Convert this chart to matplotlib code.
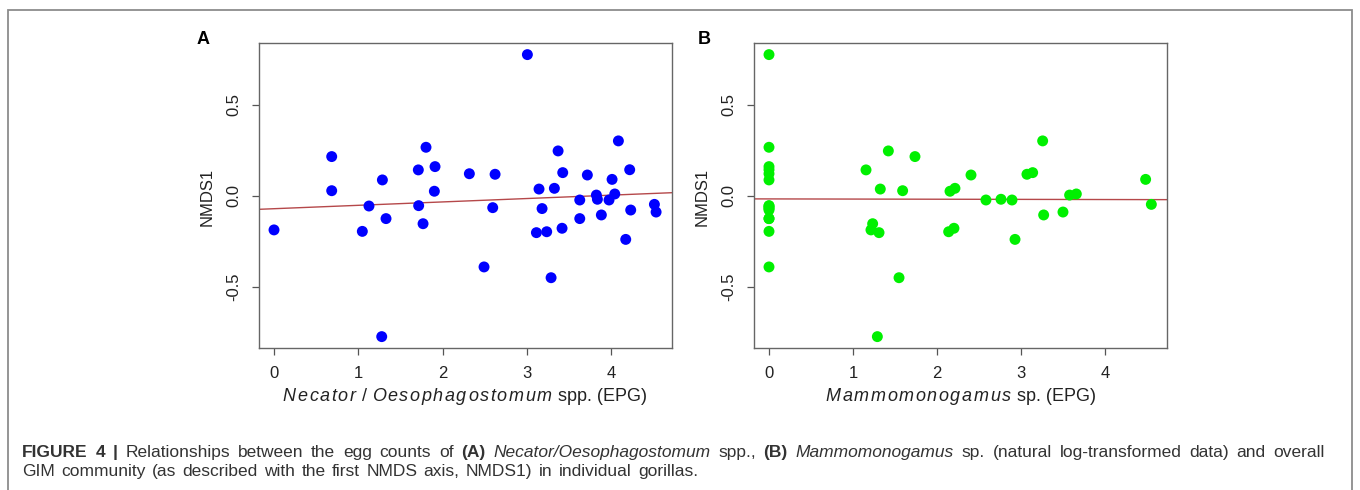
import numpy as np
import matplotlib
matplotlib.use("Agg")
import matplotlib.pyplot as plt
from matplotlib.patches import Rectangle
from matplotlib.font_manager import FontProperties, findfont
from matplotlib.ft2font import FT2Font

plt.rcParams["font.family"] = ["Liberation Sans", "DejaVu Sans"]

# NMDS1 score per gorilla (same individuals in both panels)
nmds1 = [-0.186, 0.216, 0.029, -0.194, -0.055, 0.088, -0.124, -0.771, 0.143,
         -0.053, 0.267, -0.152, 0.026, 0.161, 0.122, -0.389, 0.119, -0.064,
         0.775, 0.038, -0.069, -0.201, -0.196, -0.448, 0.042, 0.247, 0.128,
         -0.177, -0.022, -0.124, 0.115, 0.005, -0.018, -0.104, -0.022, 0.091,
         0.011, 0.302, 0.144, -0.077, -0.238, -0.046, -0.088]

# ln-transformed egg counts (EPG)
necator_epg = [0.0, 0.684, 0.684, 1.047, 1.126, 1.285, 1.328, 1.277, 1.711,
               1.715, 1.802, 1.767, 1.901, 1.909, 2.316, 2.490, 2.621, 2.593,
               3.004, 3.142, 3.178, 3.111, 3.233, 3.285, 3.324, 3.368, 3.423,
               3.415, 3.625, 3.625, 3.715, 3.822, 3.834, 3.881, 3.972, 4.008,
               4.040, 4.083, 4.217, 4.229, 4.170, 4.510, 4.530]
mammo_epg = [1.214, 1.738, 1.591, 0.0, 0.0, 0.0, 0.0, 1.290, 1.155,
             0.0, 0.0, 1.234, 2.155, 0.0, 0.0, 0.0, 3.071, 0.0,
             0.0, 1.325, 0.0, 1.310, 2.139, 1.548, 2.214, 1.421, 3.139,
             2.202, 2.583, 0.0, 2.405, 3.579, 2.762, 3.270, 2.893, 4.484,
             3.659, 3.258, 0.0, 0.0, 2.929, 4.552, 3.500]

x_ticks = [0, 1, 2, 3, 4]
y_ticks = [-0.5, 0.0, 0.5]
y_tick_labels = ["-0.5", "0.0", "0.5"]

FIG_W, FIG_H = 1360, 490
fig = plt.figure(figsize=(FIG_W / 100, FIG_H / 100), dpi=100)
renderer = fig.canvas.get_renderer()

_fonts = {}


def advance(c, style, size):
    """horizontal advance of one glyph, in pixels at 100 dpi"""
    key = (style, size)
    if key not in _fonts:
        fp = FontProperties(family="Liberation Sans", style=style, size=size)
        f = FT2Font(findfont(fp), hinting_factor=1)
        f.set_size(size, 100)
        _fonts[key] = f
    return _fonts[key].load_char(ord(c)).linearHoriAdvance / 65536


def place_runs(runs, cx_px, y, size, color="#222222"):
    """Centered label built from runs (text, style, extra letter spacing px).
    Spaced runs are drawn glyph by glyph, the others as a single text."""
    pieces = []
    pen = 0.0
    for s, style, track in runs:
        if track:
            for c in s:
                if c != " ":
                    pieces.append((c, style, pen))
                pen += advance(c, style, size) + track
        else:
            pieces.append((s, style, pen))
            pen += sum(advance(c, style, size) for c in s)
    x0 = cx_px - pen / 2
    for s, style, off in pieces:
        fig.text((x0 + off) / FIG_W, y, s, fontsize=size, style=style,
                 va="baseline", color=color)


def place_words(runs, x_px, y, size, width_px, color="#333333"):
    """Caption line: words spread so the line spans width_px."""
    words = []
    for s, style, weight in runs:
        for w in s.split():
            t = fig.text(0, y, w, fontsize=size, style=style, weight=weight,
                         va="baseline", color=color)
            words.append((t, t.get_window_extent(renderer).width))
    ink = sum(w for _, w in words)
    gap = (width_px - ink) / (len(words) - 1)
    cur = x_px
    for t, w in words:
        t.set_x(cur / FIG_W)
        cur += w + gap


def panel(rect, xs, color, xlim, letter, letter_x, xlabel_runs, xlabel_cx, ylab_x):
    ax = fig.add_axes(rect)
    ax.scatter(xs, nmds1, s=62, color=color, edgecolors="none", zorder=3)
    slope, icpt = np.polyfit(xs, nmds1, 1)
    xx = np.array(xlim)
    ax.plot(xx, icpt + slope * xx, color="#b5484a", lw=1.0, zorder=2)
    ax.set_xlim(*xlim)
    ax.set_ylim(-0.835, 0.837)
    ax.set_xticks(x_ticks)
    ax.set_yticks(y_ticks)
    ax.set_yticklabels(y_tick_labels, rotation=90, va="center")
    ax.tick_params(length=5, width=0.9, color="#555555", labelsize=12,
                   pad=8, labelcolor="#222222")
    for sp in ax.spines.values():
        sp.set_color("#666666")
        sp.set_linewidth(1.0)
    fig.text(ylab_x / FIG_W, 1 - 197 / FIG_H, "NMDS1", rotation=90,
             ha="center", va="center", fontsize=12, color="#222222")
    fig.text(letter_x / FIG_W, 1 - 39 / FIG_H, letter, fontsize=13,
             weight="bold", ha="center", va="center")
    place_runs(xlabel_runs, xlabel_cx, 1 - 401 / FIG_H, 13)
    return ax


panel([259 / FIG_W, 1 - 348.3 / FIG_H, 412.7 / FIG_W, 305 / FIG_H],
      necator_epg, "#0000ff", (-0.178, 4.715), "A", 203,
      [("Necator", "italic", 1.6), (" / ", "normal", 0),
       ("Oesophagostomum", "italic", 1.6),
       (" spp. (EPG)", "normal", 0)], 465, 207)

panel([754.3 / FIG_W, 1 - 348.3 / FIG_H, 413 / FIG_W, 305 / FIG_H],
      mammo_epg, "#00f000", (-0.175, 4.742), "B", 704,
      [("Mammomonogamus", "italic", 1.6),
       (" sp. (EPG)", "normal", 0)], 961, 702)

# caption
cap_size = 12.5
place_words([("FIGURE 4 |", "normal", "bold"),
             ("Relationships between the egg counts of", "normal", "normal"),
             ("(A)", "normal", "bold"),
             ("Necator/Oesophagostomum", "italic", "normal"),
             ("spp.,", "normal", "normal"),
             ("(B)", "normal", "bold"),
             ("Mammomonogamus", "italic", "normal"),
             ("sp. (natural log-transformed data) and overall", "normal", "normal")],
            22, 1 - 457 / FIG_H, cap_size, 1303)
place_words([("GIM community (as described with the first NMDS axis, NMDS1) in individual gorillas.",
              "normal", "normal")],
            22, 1 - 476 / FIG_H, cap_size, 676)

# outer frame of the figure box
fig.add_artist(Rectangle((8 / FIG_W, -0.05), (1352 - 8) / FIG_W, 0.05 + 1 - 10 / FIG_H,
                         transform=fig.transFigure, fill=False,
                         edgecolor="#8c8c8c", lw=1.3, clip_on=False))

fig.savefig("out.png", dpi=100)
